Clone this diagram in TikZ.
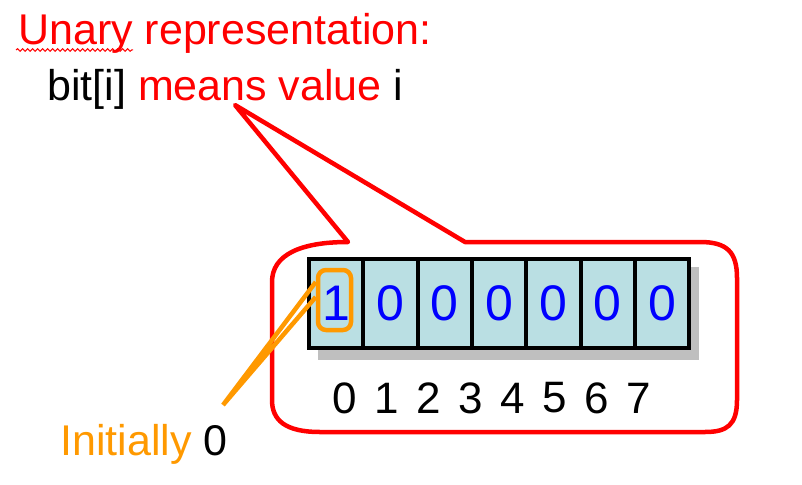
\documentclass[tikz,border=0pt]{standalone}
\usepackage{fontspec}
\setmainfont{Liberation Sans}
\usepackage{xcolor}
\usetikzlibrary{calc,decorations.pathmorphing}
\definecolor{cRed}{HTML}{FF0000}
\definecolor{cBlue}{HTML}{0000FF}
\definecolor{cOrange}{HTML}{FF9900}
\definecolor{cCell}{HTML}{BADFE3}
\definecolor{cShadow}{HTML}{BFBFBF}
\tikzset{
  big/.style     = {font=\fontsize{43}{52}\selectfont, inner sep=0pt},
  cell/.style    = {draw=black, line width=4pt, fill=cCell, minimum width=54.3pt,
                    minimum height=89pt, inner sep=0pt, text=cBlue,
                    font=\fontsize{50}{58}\selectfont},
  idx/.style     = {inner sep=0pt, font=\fontsize{44}{52}\selectfont},
  hlbox/.style   = {draw=cOrange, line width=4.5pt, rounded corners=8pt,
                    minimum width=33pt, minimum height=60pt, inner sep=0pt},
  callout/.style = {draw=cRed, line width=4.5pt, line join=round},
  pointer/.style = {draw=cOrange, line width=4.5pt, line join=miter},
  squiggle/.style = {draw=cRed, line width=1pt, decorate,
                     decoration={snake, amplitude=1.3pt, segment length=5pt}},
}
\begin{document}
\begin{tikzpicture}[x=1pt, y=-1pt]
  \useasboundingbox (0,0) rectangle (802,484);
  \node[big, anchor=base west, text=cRed] (title) at (18,45) {Unary representation:};
  \draw[squiggle] ([shift={(-2,5)}]title.base west) -- ++(117,0);
  \node[big, anchor=base west] (sub) at (47,100)
    {bit[i] \textcolor{cRed}{means value} i};
  \coordinate (rtip) at (235,105);
  \draw[callout] (348,242) -- (rtip) -- (465,242) -- (700,242)
    .. controls (727,242) and (737,252) .. (737,278) -- (737,400)
    .. controls (737,425) and (727,432) .. (705,432) -- (320,432)
    .. controls (285,432) and (272,420) .. (272,400) -- (272,282)
    .. controls (272,255) and (300,242) .. (348,242) -- cycle;
  \fill[cShadow] (318,267) rectangle (699,360);
  \foreach \v [count=\i from 0] in {1,0,0,0,0,0,0}
    \node[cell] (c\i) at (336.15+54.3*\i, 303.5) {\v};
  \foreach \i in {0,...,7}
    \node[idx] (n\i) at (345+41.9*\i, 398) {\i};
  \node[hlbox] (hl) at (334.5,300) {};
  \node[big, anchor=base west] (init) at (60,455) {\textcolor{cOrange}{Initially} 0};
  \coordinate (otip) at (223,405);
  \draw[pointer] ([yshift=3pt]hl.west) -- (otip) -- ([yshift=18pt]hl.west);
\end{tikzpicture}
\end{document}
